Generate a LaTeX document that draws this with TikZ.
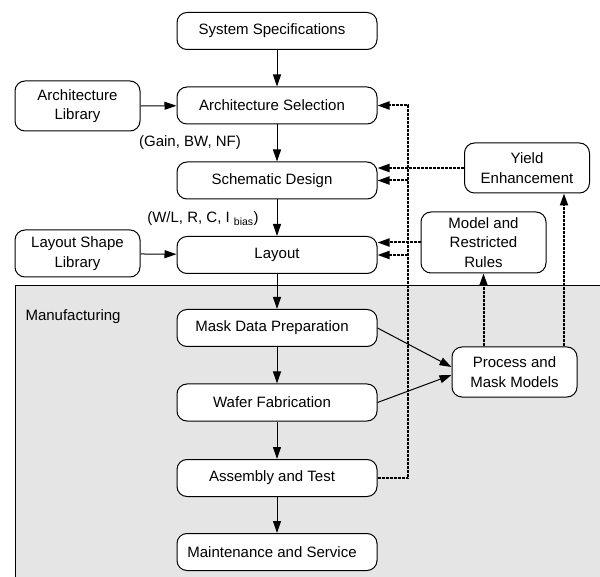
\documentclass[tikz,border=0pt]{standalone}
\usepackage{fontspec}
\setmainfont{Liberation Sans}
\usetikzlibrary{arrows.meta}

\begin{document}
\begin{tikzpicture}[x=1pt, y=-1pt, font=\fontsize{15}{19.5}\selectfont,
  box/.style={draw, fill=white, rounded corners=10pt, line width=1pt, minimum width=200pt, minimum height=37pt, align=center},
  mainbox/.style={box, execute at begin node=\hspace*{-10pt}},
  sidebox/.style={box, minimum width=125pt, minimum height=50pt, inner sep=2pt},
  arr/.style={-{Triangle[length=12pt,width=8pt]}, line width=1pt},
  feed/.style={arr, line width=2pt, dash pattern=on 3pt off 1pt}]
\useasboundingbox (0, 0) rectangle (600, 577);

\fill[gray!20] (15, 286) rectangle (600, 577);
\draw[line width=1pt] (600, 286) -- (15, 286) -- (15, 577);

\node[mainbox] (ss) at (277, 31) {System Specifications};
\node[mainbox] (as) at (277, 105.5) {Architecture Selection};
\node[mainbox] (sd) at (277, 180.5) {Schematic Design};
\node[box] (lay) at (277, 255) {Layout};
\node[mainbox] (mdp) at (277, 328) {Mask Data Preparation};
\node[mainbox] (wf) at (277, 402.5) {Wafer Fabrication};
\node[mainbox] (at) at (277, 478) {Assembly and Test};
\node[mainbox] (ms) at (277, 552) {Maintenance and Service};

\node[sidebox] (alib) at (77.5, 106) {Architecture\\Library};
\node[sidebox, minimum height=47pt] (llib) at (77.5, 253.5) {Layout Shape\\Library};
\node[sidebox] (ye) at (527, 168) {Yield\\Enhancement};
\node[sidebox, minimum height=61pt] (mr) at (483.5, 242.5) {Model and\\Restricted\\Rules};
\node[sidebox] (pmm) at (514.5, 372) {Process and\\Mask Models};

\node (gain) at (190, 143) {(Gain, BW, NF)};
\node (wl) at (203, 219) {(W/L, R, C, I \textsubscript{bias})};
\node[anchor=west] (manu) at (22, 317) {Manufacturing};

\foreach \a/\b in {ss/as, as/sd, sd/lay, lay/mdp, mdp/wf, wf/at, at/ms}
  \draw[arr] (\a) -- (\b);
\draw[arr] (alib) -- (as);
\draw[arr] (llib) -- (lay);
\draw[arr] (mdp.east) -- ([yshift=5pt]pmm.west);
\draw[arr] (wf.east) -- ([yshift=-3pt]pmm.west);

\coordinate (bus) at (408, 0);
\draw[feed] (at.east) -| (bus |- as.east) -- (as.east);
\draw[feed] (bus |- sd.east) -- (sd.east);
\draw[feed] (bus |- lay.east) -- (lay.east);
\draw[feed] (ye.west) -- (ye.west -| sd.east);
\draw[feed] (mr.west) -- (mr.west -| lay.east);
\draw[feed] (pmm.north -| mr.south) -- (mr.south);
\draw[feed] ([xshift=49.5pt]pmm.north) -- ([xshift=49.5pt]pmm.north |- ye.south);

\end{tikzpicture}
\end{document}
